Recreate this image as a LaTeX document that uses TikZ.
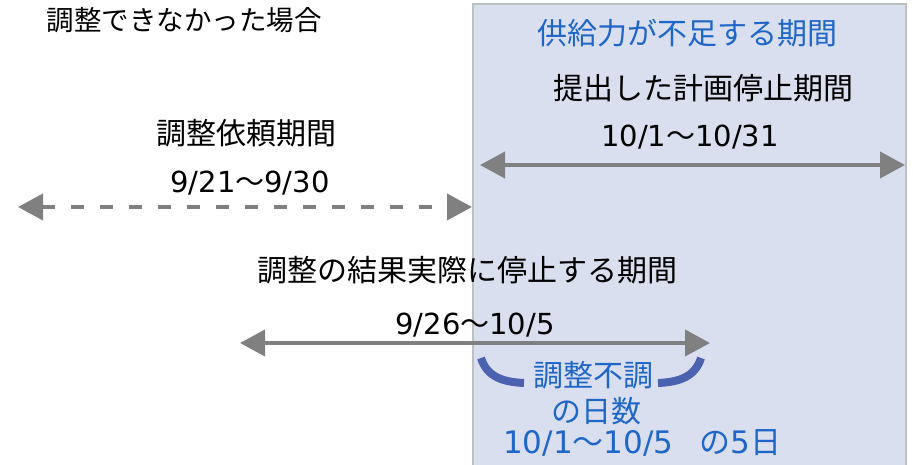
\documentclass[tikz,border=0pt]{standalone}
\usepackage{fontspec}
\setmainfont{Noto Sans CJK JP}
\newfontfamily\numfont{DejaVu Sans}
\usetikzlibrary{arrows.meta}
\definecolor{boxfill}{HTML}{DADFEF}
\definecolor{boxline}{HTML}{BFBFBF}
\definecolor{arrowgray}{HTML}{808080}
\definecolor{textblue}{HTML}{1E66C8}
\definecolor{bracketblue}{HTML}{4A62B0}
\newcommand{\num}[1]{{\numfont #1}}
\tikzset{
  txt/.style={font=\fontsize{30}{34}\selectfont, inner sep=0pt, anchor=center},
  bluetxt/.style={txt, text=textblue},
  period/.style={arrowgray, line width=4pt, {Triangle[length=25pt,width=26pt]}-{Triangle[length=25pt,width=26pt]}},
  bracket/.style={bracketblue, line width=8pt}
}
\begin{document}
\begin{tikzpicture}[x=1pt,y=-1pt]
  \useasboundingbox (0,0) rectangle (913,464);
  % shortage period box
  \fill[boxfill] (473,4) rectangle (906,470);
  \draw[boxline, line width=2pt] (473,470) -- (473,4) -- (906,4) -- (906,470);

  \node[txt, font=\fontsize{27.5}{30}\selectfont] (title) at (184,20) {調整できなかった場合};
  \node[bluetxt] (shortage) at (687,33) {供給力が不足する期間};

  % submitted plan
  \node[txt] (plan) at (703,88) {提出した計画停止期間};
  \node[txt, font=\fontsize{29}{34}\selectfont] (plandate) at (690,137) {\num{10/1}〜\num{10/31}};
  \coordinate (planl) at (480,165);
  \coordinate (planr) at (905,165);
  \draw[period] (planl) -- (planr);

  % request period
  \node[txt] (req) at (246,133) {調整依頼期間};
  \node[txt, font=\fontsize{29}{34}\selectfont] (reqdate) at (250,183) {\num{9/21}〜\num{9/30}};
  \coordinate (reql) at (18,207);
  \coordinate (reqr) at (472,207);
  \draw[period, dash pattern=on 13pt off 16pt] (reql) -- (reqr);

  % actual stop
  \node[txt] (actual) at (467,270) {調整の結果実際に停止する期間};
  \node[txt, font=\fontsize{29}{34}\selectfont] (actdate) at (475,325) {\num{9/26}〜\num{10/5}};
  \coordinate (actl) at (240,343);
  \coordinate (actr) at (710,343);
  \draw[period] (actl) -- (actr);

  % failed days
  \node[bluetxt] (fail) at (593,375) {調整不調};
  \node[bluetxt] (days) at (596,411) {の日数};
  \node[bluetxt, anchor=west, font=\fontsize{31}{34}\selectfont] (count) at (503,443) {\num{10/1}〜\num{10/5}\hspace{26pt}の\num{5}日};
  \draw[bracket] (481,358) .. controls (487,377) and (503,382) .. (524,383);
  \draw[bracket] (701,358) .. controls (695,377) and (679,382) .. (658,383);
\end{tikzpicture}
\end{document}
